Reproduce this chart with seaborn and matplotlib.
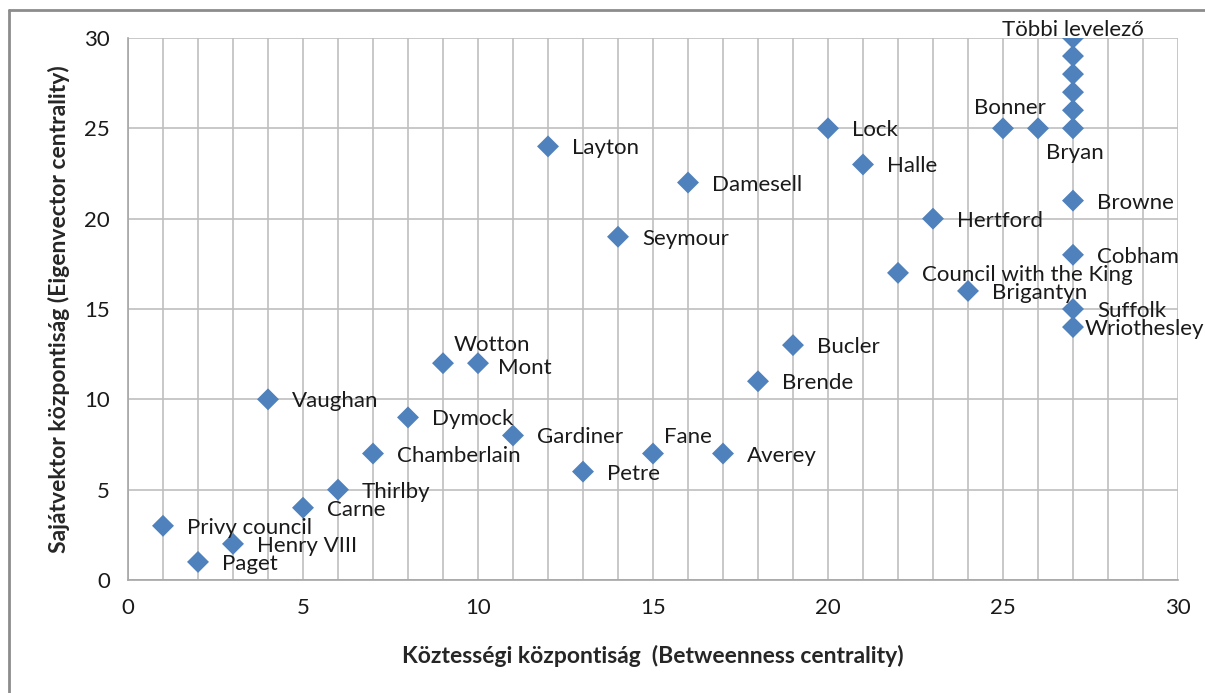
import matplotlib
matplotlib.use("Agg")
import matplotlib.pyplot as plt
from matplotlib.lines import Line2D
import numpy as np
import pandas as pd
import seaborn as sns

# ── Data ────────────────────────────────────────────────────────────────────
names = [
    "Paget", "Henry VIII", "Privy council", "Carne", "Thirlby", "Chamberlain",
    "Vaughan", "Dymock", "Wotton", "Mont", "Gardiner", "Petre", "Fane",
    "Averey", "Layton", "Seymour", "Damesell", "Lock", "Halle", "Bucler",
    "Brende", "Council with the King", "Hertford", "Brigantyn", "Bonner", "",
    "Bryan", "", "", "", "", "Többi levelező", "Browne", "Cobham", "Suffolk",
    "Wriothesley",
]
betweenness = [
    2, 3, 1, 5, 6, 7,
    4, 8, 9, 10, 11, 13, 15,
    17, 12, 14, 16, 20, 21, 19,
    18, 22, 23, 24, 25, 26,
    27, 27, 27, 27, 27, 27, 27, 27, 27,
    27,
]
eigenvector = [
    1, 2, 3, 4, 5, 7,
    10, 9, 12, 12, 8, 6, 7,
    7, 24, 19, 22, 25, 23, 13,
    11, 17, 20, 16, 25, 25,
    25, 26, 27, 28, 29, 30, 21, 18, 15,
    14,
]

df = pd.DataFrame({"name": names, "x": betweenness, "y": eigenvector})

# label placement (pixel offsets from the marker, ha)
label_offsets = {
    "Többi levelező": (0, 8, "center"),
    "Bonner": (7, 20, "center"),
    "Bryan": (2, -25, "center"),
    "Wotton": (11, 18, "left"),
    "Mont": (20, -5, "left"),
    "Fane": (11, 17, "left"),
    "Wriothesley": (12, -2, "left"),
}
default_offset = (24, -2, "left")

# ── Styling ─────────────────────────────────────────────────────────────────
sns.set_style("white")
plt.rcParams["font.family"] = ["Lato", "DejaVu Sans"]

fig = plt.figure(figsize=(12.05, 6.93), dpi=100)
ax = fig.add_axes([128 / 1205, 1 - 580 / 693, 1050 / 1205, 542 / 693])

sns.scatterplot(data=df, x="x", y="y", marker="D", s=125, color="#4F81BD",
                edgecolor="none", ax=ax, zorder=3, legend=False)

for _, row in df.iterrows():
    if not row["name"]:
        continue
    dx, dy, ha = label_offsets.get(row["name"], default_offset)
    ax.annotate(row["name"], (row["x"], row["y"]), xytext=(dx, dy),
                textcoords="offset pixels", ha=ha, va="center",
                fontsize=16, color="#1a1a1a", zorder=4)

ax.set_xlim(0, 30)
ax.set_ylim(0, 30)
ax.set_xticks(np.arange(0, 31, 5))
ax.set_yticks(np.arange(0, 31, 5))
ax.set_xticks(np.arange(0, 31, 1), minor=True)
ax.grid(True, which="major", axis="both", color="#BFBFBF", lw=1.2)
ax.grid(True, which="minor", axis="x", color="#BFBFBF", lw=1.2)
ax.set_axisbelow(True)
for side in ["top", "right"]:
    ax.spines[side].set_visible(False)
for side in ["left", "bottom"]:
    ax.spines[side].set_color("#A6A6A6")
    ax.spines[side].set_linewidth(1.2)
ax.tick_params(axis="both", which="major", length=7, width=1.2,
               color="#A6A6A6", labelsize=16, labelcolor="#1a1a1a", pad=6)
ax.tick_params(axis="x", which="minor", length=0)

ax.set_xlabel("Köztességi központiság  (Betweenness centrality)",
              fontsize=16.5, fontweight="bold", labelpad=19)
ax.set_ylabel("Sajátvektor központiság (Eigenvector centrality)",
              fontsize=16.5, fontweight="bold", labelpad=10)

# chart-area frame (top and left edges visible)
fig.add_artist(Line2D([9 / 1205, 1], [1 - 10 / 693] * 2,
                      transform=fig.transFigure, color="#8C8C8C", lw=2))
fig.add_artist(Line2D([9 / 1205] * 2, [0, 1 - 10 / 693],
                      transform=fig.transFigure, color="#8C8C8C", lw=2))

fig.savefig("out.png", dpi=100)
plt.close(fig)
